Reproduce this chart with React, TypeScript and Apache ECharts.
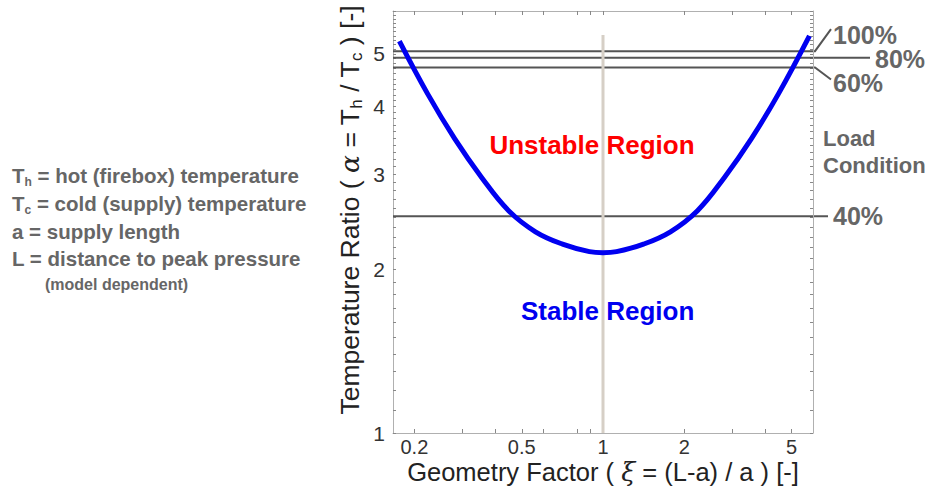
import React, { useEffect, useRef } from "react";
import * as echarts from "echarts";

// Axis ranges (log-log)
const X_MIN = 1 / 6;
const X_MAX = 6;
const Y_MIN = 1;
const Y_MAX = 6;

// Stability boundary curve
const xi = [0.176, 0.224, 0.282, 0.355, 0.447, 0.562, 0.708, 0.891, 1.0, 1.122, 1.413, 1.778, 2.239, 2.818, 3.548, 4.467, 5.82];
const alpha = [5.28, 4.22, 3.49, 2.96, 2.57, 2.35, 2.23, 2.16, 2.15, 2.16, 2.23, 2.35, 2.57, 2.96, 3.49, 4.22, 5.4];

// Load condition lines
const loadLabels = ["100%", "80%", "60%", "40%"];
const loadAlpha = [5.06, 4.92, 4.72, 2.51];

// Reference vertical line at xi = 1
const refXi = 1;
const refTop = 5.42;

// Tick labels and tick marks
const xTickValues = [0.2, 0.5, 1, 2, 5];
const xTickLabels = ["0.2", "0.5", "1", "2", "5"];
const xTickMarks = [0.2, 0.3, 0.4, 0.5, 0.6, 0.8, 0.9, 1, 2, 3, 4, 5];
const yTickValues = [1, 2, 3, 4, 5];
const yTickLabels = ["1", "2", "3", "4", "5"];
const yTickMarks: number[] = [];
for (let i = 10; i <= 60; i++) yTickMarks.push(i / 10);

// Legend text on the left
const legendLines = [
  ["T", "h", " = hot (firebox) temperature"],
  ["T", "c", " = cold (supply) temperature"],
  ["a = supply length", "", ""],
  ["L = distance to peak pressure", "", ""],
];
const legendNote = "(model dependent)";

const FONT = "'Liberation Sans', Arial, Helvetica, sans-serif";

export default function App() {
  const ref = useRef<HTMLDivElement>(null);
  useEffect(() => {
    if (!ref.current) return;
    const chart = echarts.init(ref.current, undefined, { renderer: "svg" });

    const axisLine = { show: true, onZero: false, lineStyle: { color: "#b0b0b0", width: 1 } };
    const tickStyle = { color: "#888", width: 1 };

    const xBase = {
      type: "log",
      logBase: 10,
      min: X_MIN,
      max: X_MAX,
      axisLine,
      splitLine: { show: false },
      axisTick: { show: true, inside: true, length: 4, customValues: xTickMarks, lineStyle: tickStyle },
    };
    const yBase = {
      type: "log",
      logBase: 10,
      min: Y_MIN,
      max: Y_MAX,
      axisLine,
      splitLine: { show: false },
      axisTick: { show: true, inside: true, length: 3, customValues: yTickMarks, lineStyle: tickStyle },
    };

    const series: any[] = [];
    loadAlpha.forEach((v, i) => {
      series.push({
        name: loadLabels[i],
        type: "line",
        data: [[X_MIN, v], [X_MAX, v]],
        symbol: "none",
        silent: true,
        lineStyle: { color: "#555", width: 2 },
      });
    });
    series.push({
      type: "line",
      data: [[refXi, Y_MIN], [refXi, refTop]],
      symbol: "none",
      silent: true,
      lineStyle: { color: "#d6cfc6", width: 3 },
    });
    series.push({
      type: "line",
      data: xi.map((x, i) => [x, alpha[i]]),
      smooth: 0.4,
      symbol: "none",
      silent: true,
      lineStyle: { color: "#0000f0", width: 5 },
    });

    const option: any = {
      animation: false,
      textStyle: { fontFamily: FONT },
      grid: { left: 393, right: 117, top: 11, bottom: 54, containLabel: false, outerBoundsMode: "none" },
      xAxis: [
        {
          ...xBase,
          position: "bottom",
          name: "Geometry Factor ( {g|ξ} = (L-a) / a ) [-]",
          nameLocation: "middle",
          nameGap: 27,
          nameMoveOverlap: false,
          nameTextStyle: {
            fontSize: 25.5,
            color: "#222",
            fontFamily: FONT,
            lineHeight: 24,
            rich: { g: { fontSize: 25.5, fontStyle: "italic", fontFamily: "'DejaVu Serif', serif", color: "#222", lineHeight: 24 } },
          },
          axisLabel: {
            show: true,
            customValues: xTickValues,
            formatter: (v: number) => {
              const i = xTickValues.findIndex((t) => Math.abs(t - v) < 1e-6);
              return i >= 0 ? xTickLabels[i] : "";
            },
            fontSize: 20,
            lineHeight: 16,
            color: "#333",
            margin: 6,
          },
        },
        { ...xBase, position: "top", axisLabel: { show: false } },
      ],
      yAxis: [
        {
          ...yBase,
          position: "left",
          name: "{a|Temperature Ratio ( }{g|α}{a| = T}{s|h}{a| / T}{s|c}{a| ) [-]}",
          nameLocation: "middle",
          nameGap: 28,
          nameMoveOverlap: false,
          nameTextStyle: {
            fontSize: 26.5,
            color: "#222",
            padding: [0, 0, 0, 24],
            rich: {
              a: { fontSize: 26.5, color: "#222", fontFamily: FONT, lineHeight: 31 },
              g: { fontSize: 26.5, color: "#222", fontStyle: "italic", fontFamily: "'DejaVu Serif', serif", lineHeight: 31 },
              s: { fontSize: 17, color: "#222", fontFamily: FONT, lineHeight: 19, verticalAlign: "bottom" },
            },
          },
          axisLabel: {
            show: true,
            customValues: yTickValues,
            formatter: (v: number) => {
              const i = yTickValues.findIndex((t) => Math.abs(t - v) < 1e-6);
              return i >= 0 ? yTickLabels[i] : "";
            },
            fontSize: 21,
            color: "#333",
            margin: 8,
          },
        },
        { ...yBase, position: "right", axisLabel: { show: false } },
      ],
      series,
    };
    chart.setOption(option);

    const px = (x: number, y: number) => chart.convertToPixel({ gridIndex: 0 } as any, [x, y]) as number[];
    const right = px(X_MAX, 1)[0];
    const gray = "#666";
    const graphic: any[] = [];

    // Load condition leaders and labels
    const leaders = [
      { dx: 18, dy: -22, lx: 20, ly: -16 },
      { dx: 57, dy: 0, lx: 62, ly: 1 },
      { dx: 18, dy: 12, lx: 20, ly: 15 },
      { dx: 15, dy: 0, lx: 20, ly: 0 },
    ];
    loadAlpha.forEach((v, i) => {
      const y = px(X_MIN, v)[1];
      const L = leaders[i];
      graphic.push({
        type: "polyline",
        shape: { points: [[right, y], [right + 2, y], [right + L.dx, y + L.dy]] },
        style: { stroke: "#555", lineWidth: 2, fill: null },
        silent: true,
      });
      graphic.push({
        type: "text",
        x: right + L.lx,
        y: y + L.ly,
        style: {
          text: loadLabels[i],
          fill: gray,
          font: `bold 25px ${FONT}`,
          lineHeight: 20,
          align: "left",
          verticalAlign: "middle",
        },
      });
    });

    const lc = px(X_MAX, 3.3);
    graphic.push({
      type: "text",
      x: right + 10,
      y: lc[1],
      style: {
        text: "Load\nCondition",
        fill: gray,
        font: `bold 22px ${FONT}`,
        lineHeight: 27,
        align: "left",
        verticalAlign: "middle",
      },
    });

    const u = px(0.91, 3.4);
    graphic.push({
      type: "text",
      x: u[0],
      y: u[1],
      style: { text: "Unstable Region", fill: "#ff0000", font: `bold 26px ${FONT}`, align: "center", verticalAlign: "middle" },
    });
    const s = px(1.04, 1.68);
    graphic.push({
      type: "text",
      x: s[0],
      y: s[1],
      style: { text: "Stable Region", fill: "#0000f0", font: `bold 26px ${FONT}`, align: "center", verticalAlign: "middle" },
    });

    // Left legend block
    const ys = [175, 203, 231, 258];
    legendLines.forEach((ln, i) => {
      const text = ln[1] ? `{m|${ln[0]}}{s|${ln[1]}}{m|${ln[2]}}` : `{m|${ln[0]}}`;
      graphic.push({
        type: "text",
        x: 12,
        y: ys[i],
        style: {
          text,
          verticalAlign: "middle",
          rich: {
            m: { font: `bold 20.5px ${FONT}`, fill: gray, lineHeight: 26 },
            s: { font: `bold 12px ${FONT}`, fill: gray, lineHeight: 12, verticalAlign: "bottom" },
          },
        },
      });
    });
    graphic.push({
      type: "text",
      x: 45,
      y: 284,
      style: { text: legendNote, fill: gray, font: `bold 16px ${FONT}`, verticalAlign: "middle" },
    });

    chart.setOption({ graphic });

    return () => chart.dispose();
  }, []);

  return <div ref={ref} style={{ position: "absolute", left: 0, top: 0, width: 930, height: 487 }} />;
}
